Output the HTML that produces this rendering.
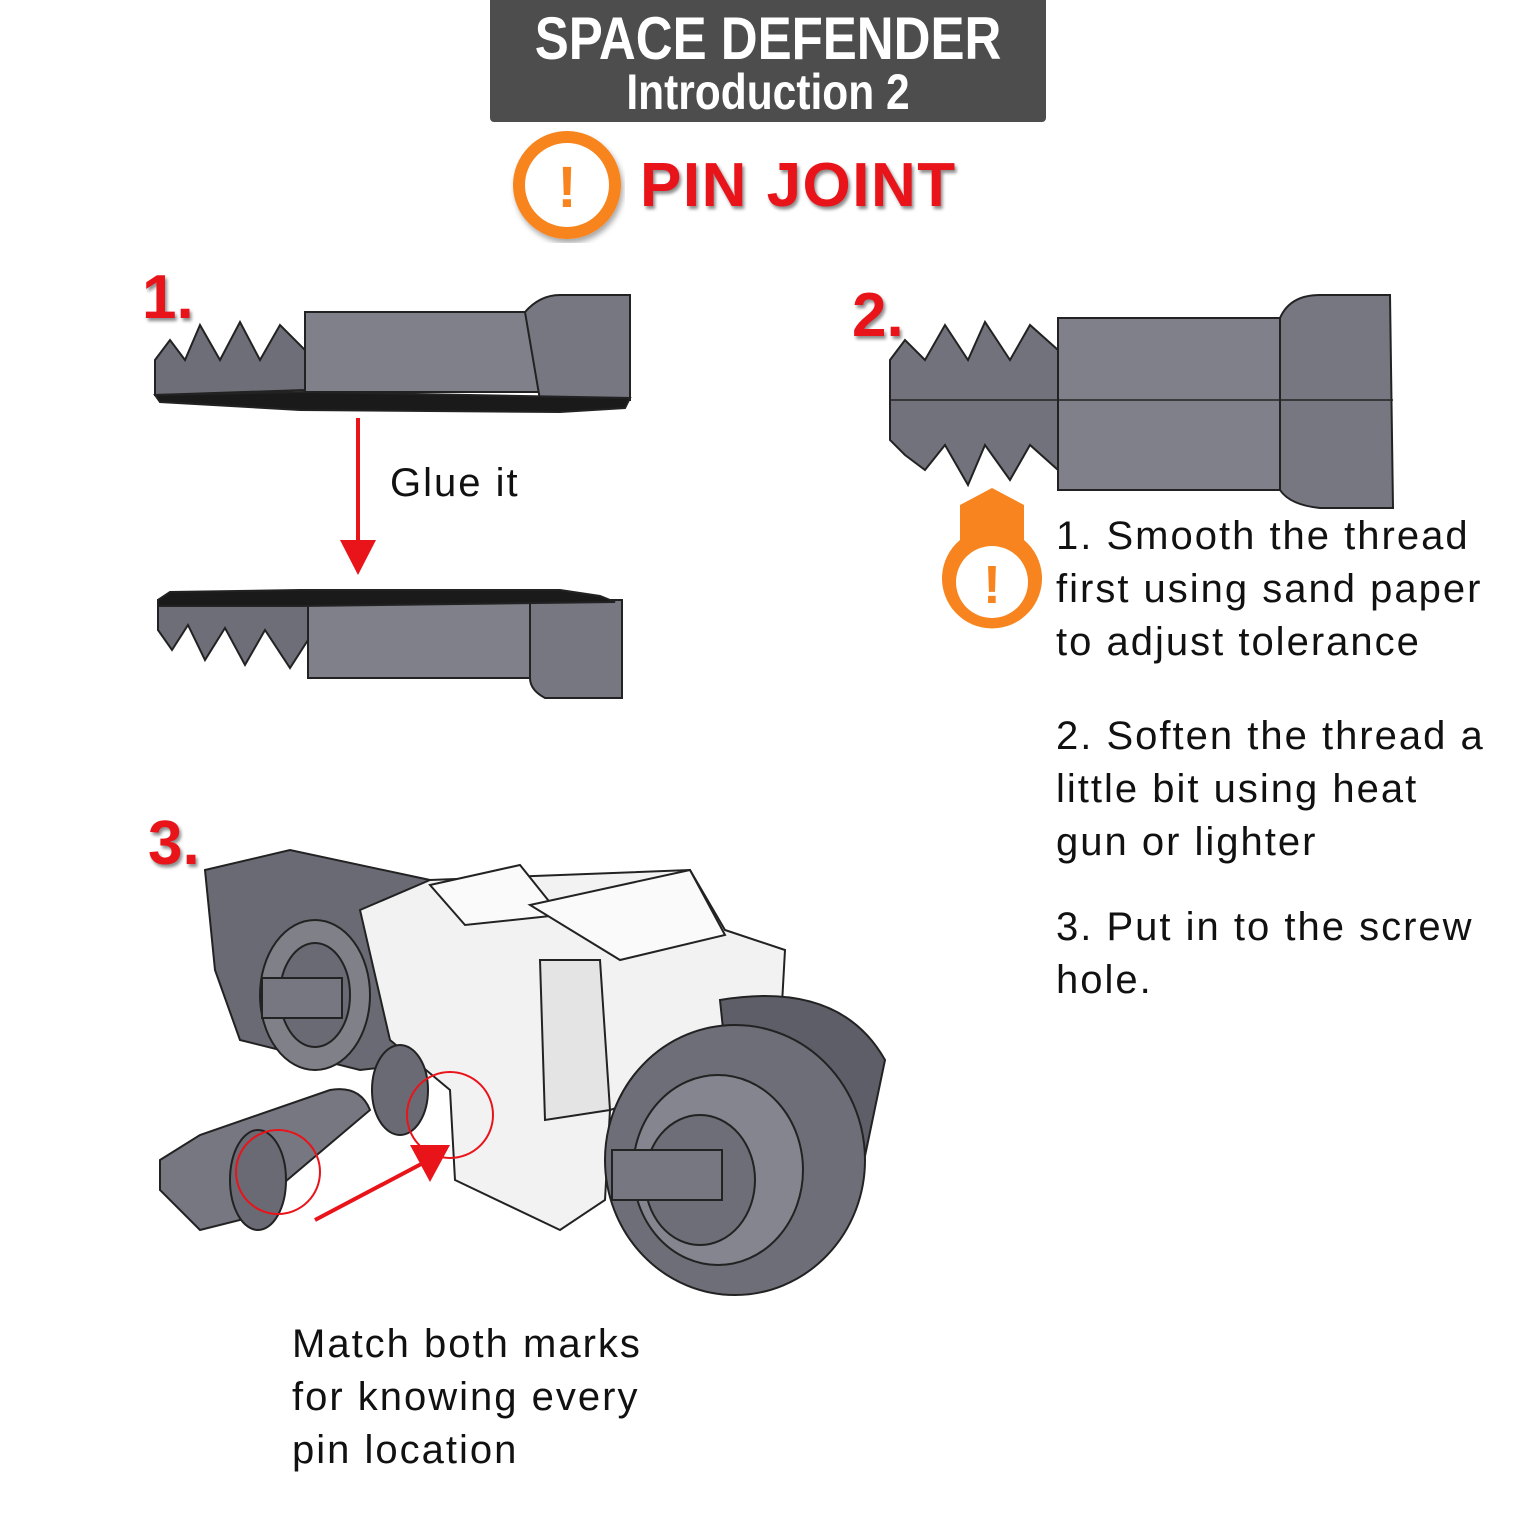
<!DOCTYPE html>
<html><head><meta charset="utf-8">
<style>
html,body{margin:0;padding:0;background:#fff;}
body{width:1536px;height:1536px;position:relative;overflow:hidden;font-family:"Liberation Sans",sans-serif;}
.t{position:absolute;color:#111;font-size:40px;line-height:53px;white-space:nowrap;letter-spacing:2px;}
.num{position:absolute;color:#e8141a;font-weight:bold;font-size:62px;-webkit-text-stroke:3px #fff;paint-order:stroke fill;text-shadow:2px 3px 3px rgba(0,0,0,.45);}
.hd{position:absolute;left:490px;width:556px;text-align:center;color:#fff;font-weight:bold;white-space:nowrap;transform:scaleX(.85);transform-origin:center;}
</style></head><body>
<div style="position:absolute;left:490px;top:0;width:556px;height:122px;background:#4d4d4d;border-radius:0 0 4px 4px;"></div>
<div class="hd" style="top:4px;font-size:60px;line-height:70px;">SPACE DEFENDER</div>
<div class="hd" style="top:64px;font-size:50px;line-height:56px;">Introduction 2</div>

<svg width="1536" height="1536" style="position:absolute;left:0;top:0">
<defs><filter id="sh"><feDropShadow dx="2" dy="4" stdDeviation="3" flood-opacity=".35"/></filter></defs>
<circle cx="567" cy="185" r="48" fill="#fff" stroke="#f7841e" stroke-width="12" filter="url(#sh)"/>
<text x="567" y="207" text-anchor="middle" font-family="Liberation Sans" font-weight="bold" font-size="58" fill="#f7841e">!</text>
<g stroke="#222" stroke-width="2">
<polygon points="155,395 155,360 170,340 185,360 200,325 220,360 240,322 260,360 280,325 305,350 305,390" fill="#6e6e78"/>
<rect x="305" y="312" width="235" height="80" fill="#80808a"/>
<path d="M525,312 Q540,295 560,295 L630,295 L630,400 L540,400 Z" fill="#777782"/>
<polygon points="155,395 305,392 630,398 625,408 560,412 300,410 160,402" fill="#1a1a1a"/>
<polygon points="158,600 158,630 172,650 188,625 205,660 225,628 245,665 265,630 290,668 308,640 308,600" fill="#6e6e78"/>
<rect x="308" y="600" width="230" height="78" fill="#80808a"/>
<path d="M530,600 L622,600 L622,698 L545,698 Q530,690 530,678 Z" fill="#777782"/>
<polygon points="158,600 170,592 300,590 560,590 600,596 615,602 300,606 158,606" fill="#1a1a1a"/>
<path d="M890,360 L905,340 L925,360 L945,325 L968,360 L985,322 L1010,360 L1030,325 L1058,350 L1058,470 L1030,445 L1010,480 L985,445 L968,485 L945,445 L925,470 L905,455 L890,440 Z" fill="#72727c"/>
<rect x="1058" y="318" width="250" height="172" fill="#80808a"/>
<path d="M1280,318 Q1290,295 1320,295 L1390,295 L1393,508 L1320,508 Q1290,505 1280,490 Z" fill="#777782"/>
<line x1="890" y1="400" x2="1393" y2="400" stroke-width="1.5"/>
</g>
<line x1="358" y1="418" x2="358" y2="545" stroke="#e8141a" stroke-width="4"/>
<polygon points="340,540 376,540 358,575" fill="#e8141a"/>
<path d="M960,505 L992,488 L1024,505 L1024,540 A50,50 0 1 1 960,540 Z" fill="#f7841e"/>
<circle cx="992" cy="582" r="36" fill="#fff"/>
<text x="992" y="603" text-anchor="middle" font-family="Liberation Sans" font-weight="bold" font-size="54" fill="#f7841e">!</text>
<g stroke="#222" stroke-width="2">
<polygon points="205,870 290,850 430,880 450,1060 360,1070 240,1040 215,970" fill="#6a6a74"/>
<ellipse cx="315" cy="995" rx="55" ry="75" fill="#808089"/>
<ellipse cx="315" cy="995" rx="35" ry="52" fill="#6a6a74"/>
<rect x="262" y="978" width="80" height="40" fill="#777782"/>
<polygon points="360,910 430,880 690,870 725,930 785,950 780,1040 700,1080 610,1110 605,1200 560,1230 455,1180 450,1090 390,1040" fill="#f2f2f2"/>
<polygon points="430,885 520,865 560,915 465,925" fill="#fafafa"/>
<polygon points="530,905 690,870 725,935 620,960" fill="#fafafa"/>
<polygon points="540,960 545,1120 610,1110 600,960" fill="#e4e4e4"/>
<ellipse cx="400" cy="1090" rx="28" ry="45" fill="#6a6a74"/>
<path d="M720,1000 Q840,980 885,1060 L860,1180 L740,1190 Z" fill="#5e5e68"/>
<ellipse cx="735" cy="1160" rx="130" ry="135" fill="#6e6e78"/>
<ellipse cx="718" cy="1170" rx="85" ry="95" fill="#858590"/>
<ellipse cx="700" cy="1180" rx="55" ry="65" fill="#6e6e78"/>
<rect x="612" y="1150" width="110" height="50" fill="#777782"/>
<path d="M160,1160 L200,1135 L330,1090 Q360,1085 370,1110 L240,1220 L200,1230 L160,1190 Z" fill="#777782"/>
<ellipse cx="258" cy="1180" rx="28" ry="50" fill="#6a6a74"/>
</g>
<circle cx="278" cy="1172" r="42" fill="none" stroke="#e8141a" stroke-width="2"/>
<circle cx="450" cy="1115" r="43" fill="none" stroke="#e8141a" stroke-width="2"/>
<line x1="315" y1="1220" x2="425" y2="1162" stroke="#e8141a" stroke-width="4"/>
<polygon points="410,1145 450,1145 430,1182" fill="#e8141a"/>
</svg>

<div style="position:absolute;left:640px;top:150px;font-weight:bold;font-size:62px;letter-spacing:1.5px;white-space:nowrap;color:#e8141a;-webkit-text-stroke:3px #fff;paint-order:stroke fill;text-shadow:2px 3px 3px rgba(0,0,0,.45);">PIN JOINT</div>
<div class="num" style="left:142px;top:262px;">1.</div>
<div class="num" style="left:852px;top:280px;">2.</div>
<div class="num" style="left:148px;top:808px;">3.</div>

<div class="t" style="left:390px;top:457px;">Glue it</div>
<div class="t" style="left:1056px;top:510px;">1. Smooth the thread<br>first using sand paper<br>to adjust tolerance</div>
<div class="t" style="left:1056px;top:710px;">2. Soften the thread a<br>little bit using heat<br>gun or lighter</div>
<div class="t" style="left:1056px;top:901px;">3. Put in to the screw<br>hole.</div>
<div class="t" style="left:292px;top:1318px;">Match both marks<br>for knowing every<br>pin location</div>
</body></html>
